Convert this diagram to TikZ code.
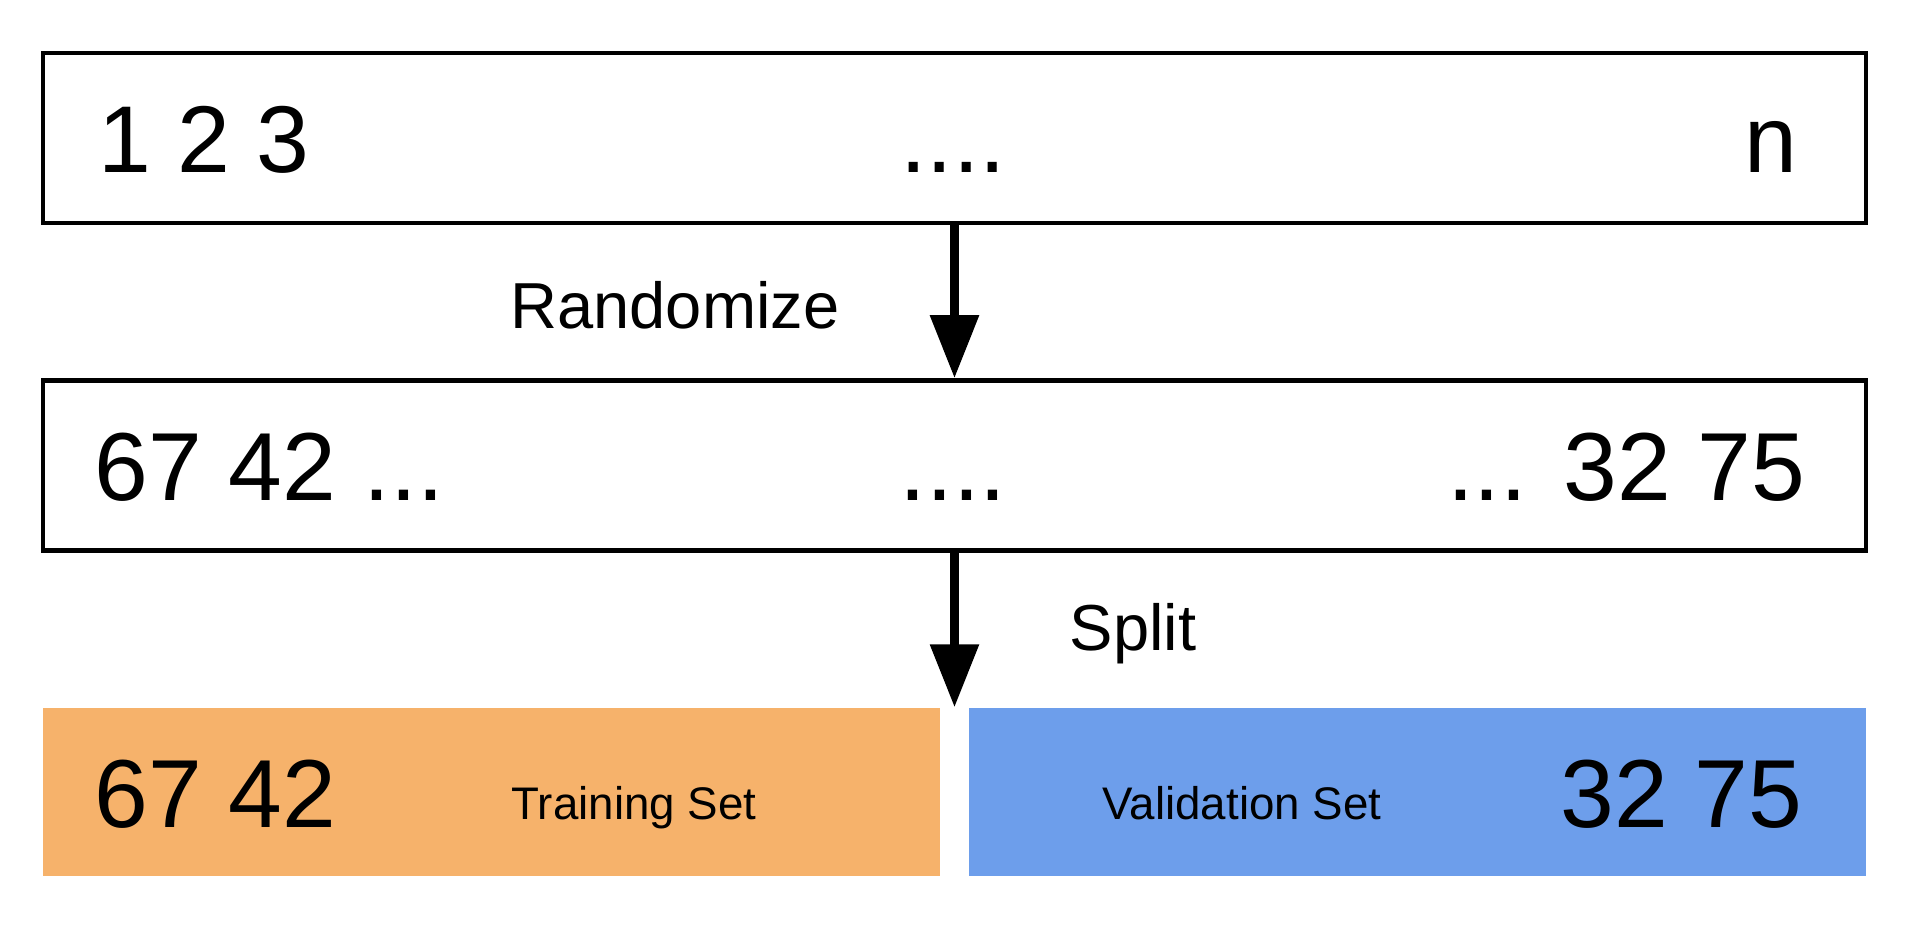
\documentclass[tikz,border=0pt]{standalone}
\usepackage{fontspec}
\setmainfont{Liberation Sans}
\usetikzlibrary{arrows.meta,positioning,calc}
\definecolor{trainorange}{HTML}{F6B26B}
\definecolor{validblue}{HTML}{6D9EEB}
\tikzset{
    %Define standard arrow tip
    >={Triangle[length=0.63cm,width=0.47cm]},
    %Define style for boxes
    rowbox/.style={
           draw,
           line width=1.3pt,
           minimum width=18.23cm,
           minimum height=1.70cm,
           inner sep=0pt},
    partbox/.style={
           minimum width=8.97cm,
           minimum height=1.68cm,
           inner sep=0pt},
    % Define text styles
    numtext/.style={
           font=\fontsize{27}{32}\selectfont,
           inner sep=0pt},
    settext/.style={
           font=\fontsize{13}{16}\selectfont,
           inner sep=0pt},
    steptext/.style={
           font=\fontsize{18.5}{22}\selectfont,
           inner sep=0pt},
    % Define arrow style
    pil/.style={
           ->,
           line width=2.6pt}
}

\begin{document}
\begin{tikzpicture}
	\useasboundingbox (0,0) rectangle (19.22,9.34);

	% Boxes
	\node[rowbox] (orig) at (9.545,7.96) {};
	\node[rowbox] (shuffled) at (9.545,4.685) {};
	\node[partbox, fill=trainorange] (train) at (4.91,1.42) {};
	\node[partbox, fill=validblue] (valid) at (14.17,1.42) {};

	% Numbers
	\node[numtext, anchor=base west] (origfirst) at (0.98,7.62) {1 2 3};
	\node[numtext, anchor=base] (origdots) at (9.53,7.62) {....};
	\node[numtext, anchor=base east] (origlast) at (17.98,7.62) {n};

	\node[numtext, font=\fontsize{27.5}{33}\selectfont, anchor=base west] (shuffirst) at (0.94,4.34) {67 42 ...};
	\node[numtext, font=\fontsize{27.5}{33}\selectfont, anchor=base] (shufdots) at (9.53,4.34) {....};
	\node[numtext, font=\fontsize{27.5}{33}\selectfont, anchor=base east] (shuflast) at (18.06,4.34) {... 32 75};

	\node[numtext, font=\fontsize{27.5}{33}\selectfont, anchor=base west] (trainnum) at (0.94,1.07) {67 42};
	\node[numtext, font=\fontsize{27.5}{33}\selectfont, anchor=base east] (validnum) at (18.03,1.07) {32 75};

	\node[settext, anchor=base] (trainname) at (6.34,1.15) {Training Set};
	\node[settext, anchor=base] (validname) at (12.42,1.15) {Validation Set};

	% Steps
	\node[steptext, anchor=base] (randomize) at (6.75,6.06) {Randomize};
	\node[steptext, anchor=base] (split) at (11.33,2.84) {Split};

	\draw[pil] (orig.south) -- (shuffled.north);
	\draw[pil] (shuffled.south) -- (shuffled.south |- train.north);
\end{tikzpicture}
\end{document}
